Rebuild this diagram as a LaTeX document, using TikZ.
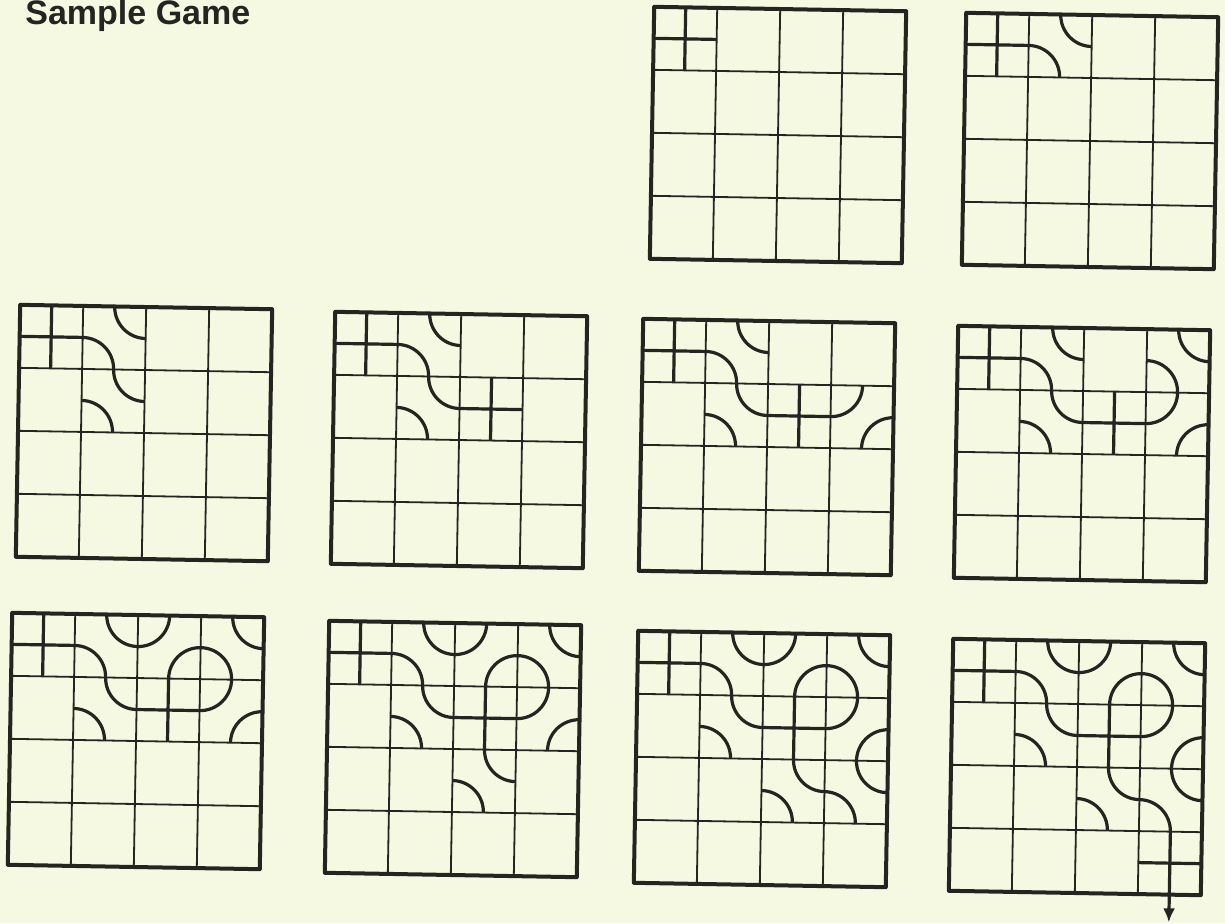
\documentclass[tikz,border=0pt]{standalone}
\usepackage{fontspec}
\setmainfont{Liberation Sans}
\usepackage{xcolor}
\usetikzlibrary{arrows.meta}
\definecolor{paper}{RGB}{245,249,225}
\definecolor{ink}{RGB}{36,36,32}

% one tile in cell (column #1, row #2 counted from the top)
\newcommand{\tileX}[2]{\draw[trail] (#1,3.5-#2) -- ++(1,0) (#1+0.5,3-#2) -- ++(0,1);}
\newcommand{\tileA}[2]{\draw[trail] (#1+0.5,3-#2) arc[start angle=0,end angle=90,radius=0.5]
  (#1+0.5,4-#2) arc[start angle=180,end angle=270,radius=0.5];}
\newcommand{\tileB}[2]{\draw[trail] (#1+0.5,4-#2) arc[start angle=0,end angle=-90,radius=0.5]
  (#1+0.5,3-#2) arc[start angle=180,end angle=90,radius=0.5];}

% board: left, top (px), tiles c/r/kind, extra drawing
\newcommand{\gameboard}[4]{%
  \begin{scope}[shift={(#1,-#2-252)},x=31.5pt,y=31.5pt,rotate around={-1:(2,2)}]
    \draw[gridline] (0,0) grid[step=1] (4,4);
    \foreach \c/\r/\k in {#3} {\csname tile\k\endcsname{\c}{\r}}
    #4
    \draw[frame] (0,0) rectangle (4,4);
  \end{scope}}

\begin{document}
\begin{tikzpicture}[x=0.5pt,y=0.5pt,
  gridline/.style={draw=ink,line width=0.9pt},
  trail/.style={draw=ink,line width=1.6pt},
  frame/.style={draw=ink,line width=2pt,line join=round}]
\path[use as bounding box,fill=paper] (0,-923) rectangle (1225,0);
\node[anchor=base west,inner sep=0pt,text=ink,font=\bfseries\fontsize{17}{20}\selectfont] (title) at (25,-24) {Sample Game};
% the game, one tile per move
\gameboard{652}{9}{0/0/X}{}
\gameboard{964}{15}{0/0/X,1/0/A}{}
\gameboard{18}{307}{0/0/X,1/0/A,1/1/A}{}
\gameboard{333}{314}{0/0/X,1/0/A,1/1/A,2/1/X}{}
\gameboard{641}{321}{0/0/X,1/0/A,1/1/A,2/1/X,3/1/B}{}
\gameboard{956}{328}{0/0/X,1/0/A,1/1/A,2/1/X,3/1/B,3/0/A}{}
\gameboard{10}{615}{0/0/X,1/0/A,1/1/A,2/1/X,3/1/B,3/0/A,2/0/B}{}
\gameboard{327}{623}{0/0/X,1/0/A,1/1/A,2/1/X,3/1/B,3/0/A,2/0/B,2/2/A}{}
\gameboard{636}{633}{0/0/X,1/0/A,1/1/A,2/1/X,3/1/B,3/0/A,2/0/B,2/2/A,3/2/A}{}
\gameboard{951}{641}{0/0/X,1/0/A,1/1/A,2/1/X,3/1/B,3/0/A,2/0/B,2/2/A,3/2/A,3/3/X}{%
  \coordinate (exit) at (3.5,-0.44);
  \draw[trail,-{Latex[length=7pt,width=6pt]}] (3.5,0) -- (exit);}
\end{tikzpicture}
\end{document}
